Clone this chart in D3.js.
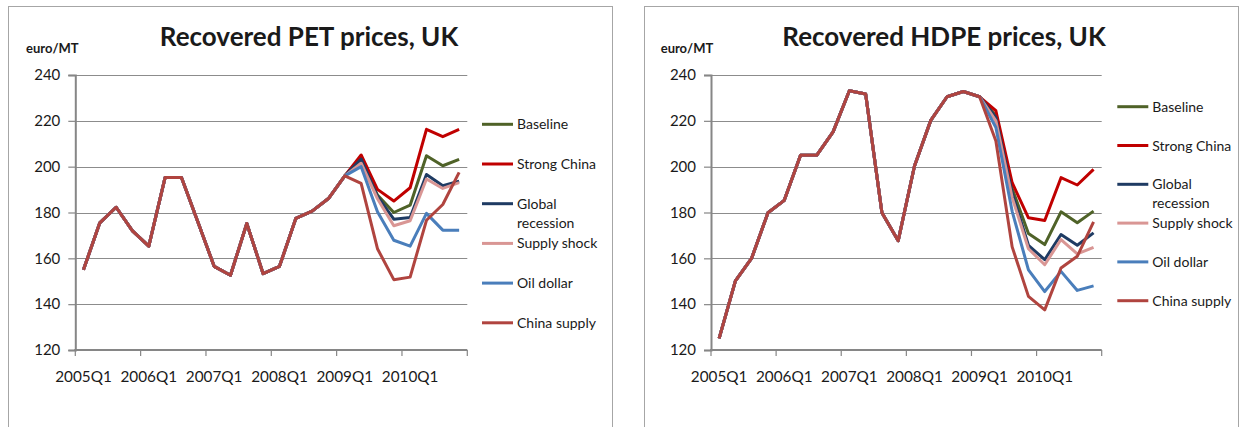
<!DOCTYPE html>
<html>
<head>
<meta charset="utf-8">
<script src="https://cdnjs.cloudflare.com/ajax/libs/d3/7.8.5/d3.min.js"></script>
<style>
  html, body { margin: 0; padding: 0; background: #fff; }
  svg { display: block; }
  text { font-family: Lato, "Noto Sans", sans-serif; fill: #1a1a1a; }
</style>
</head>
<body>
<svg id="chart" width="1244" height="427"></svg>
<script>
// Quarterly categories shared by both charts
const quarters = [
  "2005Q1","2005Q2","2005Q3","2005Q4",
  "2006Q1","2006Q2","2006Q3","2006Q4",
  "2007Q1","2007Q2","2007Q3","2007Q4",
  "2008Q1","2008Q2","2008Q3","2008Q4",
  "2009Q1","2009Q2","2009Q3","2009Q4",
  "2010Q1","2010Q2","2010Q3","2010Q4"
];
const xTickLabels = ["2005Q1","2006Q1","2007Q1","2008Q1","2009Q1","2010Q1"];
const yTicks = [120, 140, 160, 180, 200, 220, 240];
const seriesNames = ["Baseline","Strong China","Global recession","Supply shock","Oil dollar","China supply"];
const seriesColors = ["#4f6228","#c00000","#1f3b63","#d99694","#4a7ebb","#b0443f"];

// Recovered PET, UK (euro/MT): shared history 2005Q1-2009Q1, then scenarios
const petHistory = [155, 175.5, 182.3, 172, 165.3, 195.3, 195.3, 176, 156.5, 152.6, 175.2, 153.3, 156.5, 177.4, 180.6, 186.1, 196];
const petBaseline     = [203.6, 187.6, 180.0, 183.2, 204.8, 200.4, 203.2];
const petStrongChina  = [205.1, 190.1, 185.0, 190.8, 216.3, 213.1, 216.3];
const petGlobalRec    = [203.3, 187.0, 177.1, 177.8, 196.6, 191.7, 193.7];
const petSupplyShock  = [201.5, 186.0, 174.2, 176.4, 194.6, 190.5, 193.0];
const petOilDollar    = [200.0, 180.3, 167.9, 165.3, 179.6, 172.3, 172.3];
const petChinaSupply  = [192.7, 164.2, 150.7, 151.8, 176.6, 183.5, 197.5];

// Recovered HDPE, UK (euro/MT)
const hdpeHistory = [125.1, 150.2, 160.1, 179.9, 185.3, 205, 205, 215.2, 233.1, 231.7, 179.9, 167.7, 200.3, 220.2, 230.5, 232.8, 230.5];
const hdpeBaseline    = [222.2, 190.5, 170.8, 166.0, 180.3, 175.5, 180.6];
const hdpeStrongChina = [224.4, 193.0, 177.7, 176.5, 195.2, 192.0, 198.8];
const hdpeGlobalRec   = [221.5, 188.5, 165.7, 159.4, 170.4, 165.7, 171.1];
const hdpeSupplyShock = [220.0, 186.5, 164.2, 157.2, 168.2, 161.9, 164.8];
const hdpeOilDollar   = [217.1, 180.5, 155.0, 145.5, 154.3, 146.0, 148.0];
const hdpeChinaSupply = [211.2, 165.0, 143.4, 137.5, 155.8, 160.9, 175.9];

const svg = d3.select("#chart");

function drawPanel(cfg) {
  const g = svg.append("g");

  // chart frame
  g.append("rect")
    .attr("x", cfg.frame[0] + 0.5).attr("y", cfg.frame[1] + 0.5)
    .attr("width", cfg.frame[2]).attr("height", cfg.frame[3])
    .attr("fill", "none").attr("stroke", "#a6a6a6").attr("stroke-width", 1);

  const x = d3.scaleBand().domain(quarters).range([cfg.plot.left, cfg.plot.right]).padding(0);
  const y = d3.scaleLinear().domain([120, 240]).range([cfg.plot.bottom, cfg.plot.top]);
  const cx = q => x(q) + x.bandwidth() / 2;

  // horizontal gridlines
  g.append("g").selectAll("line")
    .data(yTicks.filter(t => t > 120))
    .join("line")
    .attr("x1", cfg.plot.left).attr("x2", cfg.plot.right)
    .attr("y1", d => Math.round(y(d)) + 0.5).attr("y2", d => Math.round(y(d)) + 0.5)
    .attr("stroke", "#8c8c8c").attr("stroke-width", 1);

  // y axis
  const yAxis = g.append("g")
    .attr("transform", `translate(${cfg.plot.left},0)`)
    .call(d3.axisLeft(y).tickValues(yTicks).tickSize(7).tickPadding(8));
  yAxis.select(".domain").attr("stroke", "#868686").attr("stroke-width", 2);
  yAxis.selectAll(".tick line").attr("stroke", "#868686").attr("stroke-width", 1.2);
  yAxis.selectAll(".tick text").style("font-family", "Lato, sans-serif").style("font-size", "15px").attr("fill", "#1a1a1a");

  // x axis: labels at the Q1 category centres, tick marks on yearly boundaries
  const xAxis = g.append("g")
    .attr("transform", `translate(0,${cfg.plot.bottom})`);
  xAxis.append("line")
    .attr("x1", cfg.plot.left - 1).attr("x2", cfg.plot.right)
    .attr("y1", 0).attr("y2", 0)
    .attr("stroke", "#868686").attr("stroke-width", 2);
  const boundaries = quarters.filter((q, i) => i % 4 === 0).map(q => x(q)).concat([cfg.plot.right]);
  xAxis.selectAll("line.tk").data(boundaries).join("line").attr("class", "tk")
    .attr("x1", d => d).attr("x2", d => d).attr("y1", 0).attr("y2", 6)
    .attr("stroke", "#868686").attr("stroke-width", 1.2);
  xAxis.selectAll("text").data(xTickLabels).join("text")
    .attr("x", d => cx(d)).attr("y", 32)
    .attr("text-anchor", "middle")
    .style("font-size", "15.3px")
    .text(d => d);

  // series lines
  const line = d3.line().x(d => cx(d.q)).y(d => y(d.v));
  cfg.series.forEach((vals, si) => {
    const full = cfg.history.concat(vals);
    const pts = full.map((v, i) => ({ q: quarters[i], v }));
    g.append("path")
      .datum(pts)
      .attr("d", line)
      .attr("fill", "none")
      .attr("stroke", seriesColors[si])
      .attr("stroke-width", 3)
      .attr("stroke-linejoin", "round");
  });

  // title and unit label
  g.append("text")
    .attr("x", cfg.titleX).attr("y", 46)
    .attr("text-anchor", "middle")
    .style("font-size", "26px").style("font-weight", "bold")
    .attr("fill", "#000")
    .text(cfg.title);
  g.append("text")
    .attr("x", cfg.unitX).attr("y", 53)
    .style("font-size", "13px").style("font-weight", "bold")
    .attr("fill", "#000")
    .text("euro/MT");

  // legend
  const lg = g.append("g");
  seriesNames.forEach((name, i) => {
    const ry = cfg.legend.y0 + i * cfg.legend.step;
    lg.append("line")
      .attr("x1", cfg.legend.x).attr("x2", cfg.legend.x + 31)
      .attr("y1", ry).attr("y2", ry)
      .attr("stroke", seriesColors[i]).attr("stroke-width", 3);
    const words = name === "Global recession" ? ["Global", "recession"] : [name];
    words.forEach((w, k) => {
      lg.append("text")
        .attr("x", cfg.legend.x + 35).attr("y", ry + k * 19)
        .attr("dy", "0.36em")
        .style("font-size", "14px")
        .text(w);
    });
  });
}

drawPanel({
  frame: [8, 6, 604, 440],
  plot: { left: 75.3, right: 467.3, top: 75, bottom: 350 },
  title: "Recovered PET prices, UK",
  titleX: 309, unitX: 26,
  history: petHistory,
  series: [petBaseline, petStrongChina, petGlobalRec, petSupplyShock, petOilDollar, petChinaSupply],
  legend: { x: 482, y0: 124.3, step: 39.7 }
});

drawPanel({
  frame: [644, 6, 594, 440],
  plot: { left: 711, right: 1101.7, top: 75, bottom: 350 },
  title: "Recovered HDPE prices, UK",
  titleX: 944, unitX: 660.7,
  history: hdpeHistory,
  series: [hdpeBaseline, hdpeStrongChina, hdpeGlobalRec, hdpeSupplyShock, hdpeOilDollar, hdpeChinaSupply],
  legend: { x: 1117.3, y0: 106.7, step: 38.8 }
});
</script>
</body>
</html>
